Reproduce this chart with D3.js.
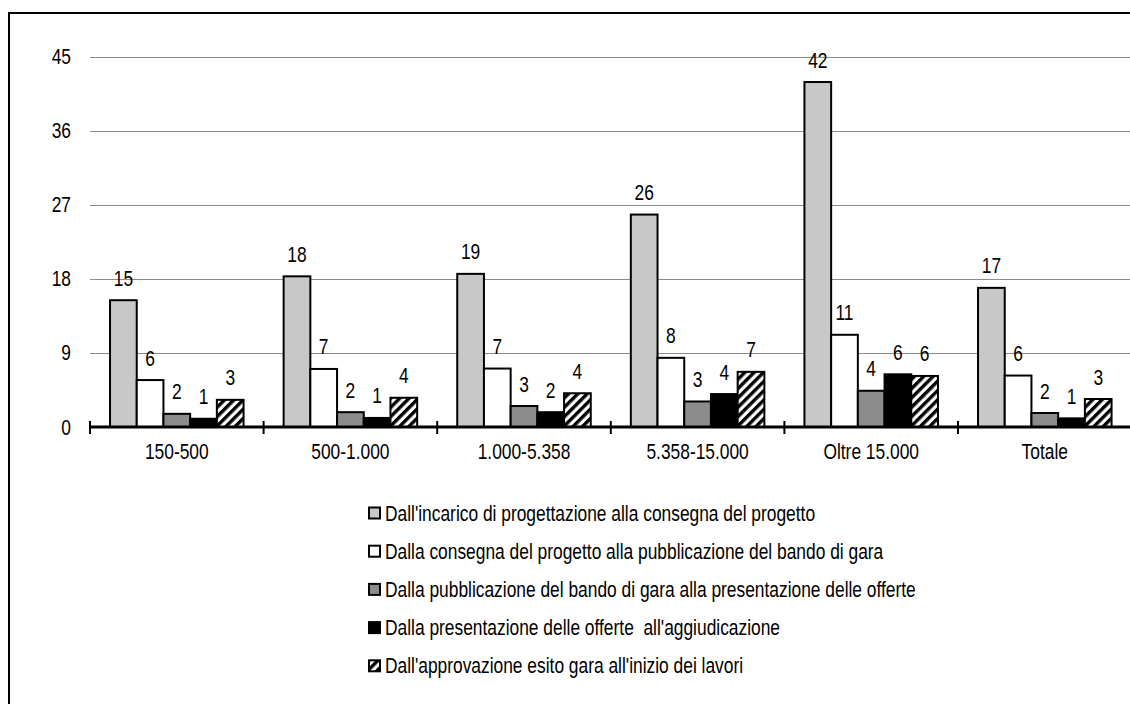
<!DOCTYPE html>
<html>
<head>
<meta charset="utf-8">
<script src="https://cdn.jsdelivr.net/npm/d3@7"></script>
<style>
  html, body { margin: 0; padding: 0; background: #fff; }
  svg { display: block; }
  text { font-family: "Liberation Sans", Arial, sans-serif; fill: #000; white-space: pre; }
</style>
</head>
<body>
<svg id="chart" width="1130" height="704"></svg>
<script>
// Fasce d'importo (categorie sull'asse X)
const categories = ["150-500", "500-1.000", "1.000-5.358", "5.358-15.000", "Oltre 15.000", "Totale"];

// Nomi delle fasi (legenda)
const seriesNames = [
  "Dall'incarico di progettazione alla consegna del progetto",
  "Dalla consegna del progetto alla pubblicazione del bando di gara",
  "Dalla pubblicazione del bando di gara alla presentazione delle offerte",
  "Dalla presentazione delle offerte  all'aggiudicazione",
  "Dall'approvazione esito gara all'inizio dei lavori"
];

// Durate medie per fase, una voce per fascia
const incaricoConsegna      = [15.4, 18.3, 18.6, 25.8, 41.9, 16.9];
const consegnaPubblicazione = [5.7, 7.05, 7.1, 8.4, 11.2, 6.25];
const pubblicazioneOfferte  = [1.6, 1.8, 2.55, 3.1, 4.4, 1.7];
const offerteAggiudicazione = [1.0, 1.1, 1.8, 4.0, 6.4, 1.05];
const approvazioneInizio    = [3.3, 3.55, 4.1, 6.7, 6.2, 3.4];

// Valori dell'asse Y
const yTicks = [0, 9, 18, 27, 36, 45];

const seriesValues = [incaricoConsegna, consegnaPubblicazione, pubblicazioneOfferte,
                      offerteAggiudicazione, approvazioneInizio];
const fills = ["#c8c8c8", "#ffffff", "#8c8c8c", "#000000", "url(#hatch)"];

const svg = d3.select("#chart");
const SX = 0.79;      // compressione orizzontale del carattere (stile "narrow")
const FS = 22;        // dimensione del carattere

// Testo con larghezza compressa, ancorato al punto (x, y)
function label(sel, x, y, str, anchor) {
  return sel.append("text")
    .attr("transform", `translate(${x},${y}) scale(${SX},1)`)
    .attr("text-anchor", anchor || "middle")
    .attr("font-size", FS)
    .text(str);
}

// Tratteggio diagonale
const defs = svg.append("defs");
const pat = defs.append("pattern")
  .attr("id", "hatch")
  .attr("patternUnits", "userSpaceOnUse")
  .attr("width", 6.6).attr("height", 6.6)
  .attr("patternTransform", "rotate(45)");
pat.append("rect").attr("width", 6.6).attr("height", 6.6).attr("fill", "#fff");
pat.append("rect").attr("width", 3.4).attr("height", 6.6).attr("fill", "#000");

svg.append("rect").attr("width", 1130).attr("height", 704).attr("fill", "#fff");

// Cornice
svg.append("rect")
  .attr("x", 9).attr("y", 13)
  .attr("width", 1140).attr("height", 720)
  .attr("fill", "none").attr("stroke", "#000").attr("stroke-width", 2);

// Scale
const x0 = d3.scaleBand().domain(categories).range([90, 1131.6]).paddingInner(0).paddingOuter(0);
const x1 = d3.scaleBand().domain(d3.range(seriesValues.length))
  .range([0, x0.bandwidth()]).paddingInner(0).paddingOuter(0.75);
const y = d3.scaleLinear().domain([0, 45]).range([427, 56.5]);

// Griglia orizzontale
svg.append("g").selectAll("line")
  .data(yTicks.filter(d => d > 0))
  .join("line")
  .attr("x1", 90).attr("x2", 1130)
  .attr("y1", d => Math.round(y(d)) + 0.5).attr("y2", d => Math.round(y(d)) + 0.5)
  .attr("stroke", "#8c8c8c").attr("stroke-width", 1);

// Etichette asse Y
const yLab = svg.append("g");
yTicks.forEach(t => label(yLab, 71, y(t) + 7.5, String(t), "end"));

// Barre
const fmt = d3.format(".0f");
const groups = svg.append("g").selectAll("g")
  .data(categories)
  .join("g")
  .attr("transform", d => `translate(${x0(d)},0)`);

groups.each(function(cat, ci) {
  const g = d3.select(this);
  seriesValues.forEach((vals, si) => {
    const v = vals[ci];
    g.append("rect")
      .attr("x", x1(si))
      .attr("y", y(v))
      .attr("width", x1.bandwidth())
      .attr("height", y(0) - y(v))
      .attr("fill", fills[si])
      .attr("stroke", "#000")
      .attr("stroke-width", 2);
  });
  seriesValues.forEach((vals, si) => {
    const v = vals[ci];
    label(g, x1(si) + x1.bandwidth() / 2, y(v) - 14.5, fmt(v));
  });
});

// Asse X
const xAxis = svg.append("g");
xAxis.append("line")
  .attr("x1", 90).attr("x2", 1130)
  .attr("y1", y(0)).attr("y2", y(0))
  .attr("stroke", "#000").attr("stroke-width", 3);
xAxis.selectAll("line.tick")
  .data(categories.map(c => x0(c)).concat([x0(categories[categories.length - 1]) + x0.bandwidth()]))
  .join("line")
  .attr("class", "tick")
  .attr("x1", d => d).attr("x2", d => d)
  .attr("y1", y(0) - 6).attr("y2", y(0) + 7)
  .attr("stroke", "#000").attr("stroke-width", 2);
categories.forEach(c => label(xAxis, x0(c) + x0.bandwidth() / 2, 459, c));

// Legenda
const legend = svg.append("g");
seriesNames.forEach((name, i) => {
  const cy = 513 + i * 38.2;
  legend.append("rect")
    .attr("x", 369).attr("y", cy - 5.5)
    .attr("width", 11).attr("height", 11)
    .attr("fill", fills[i])
    .attr("stroke", "#000").attr("stroke-width", 2);
  label(legend, 385, cy + 7.5, name, "start");
});
</script>
</body>
</html>
